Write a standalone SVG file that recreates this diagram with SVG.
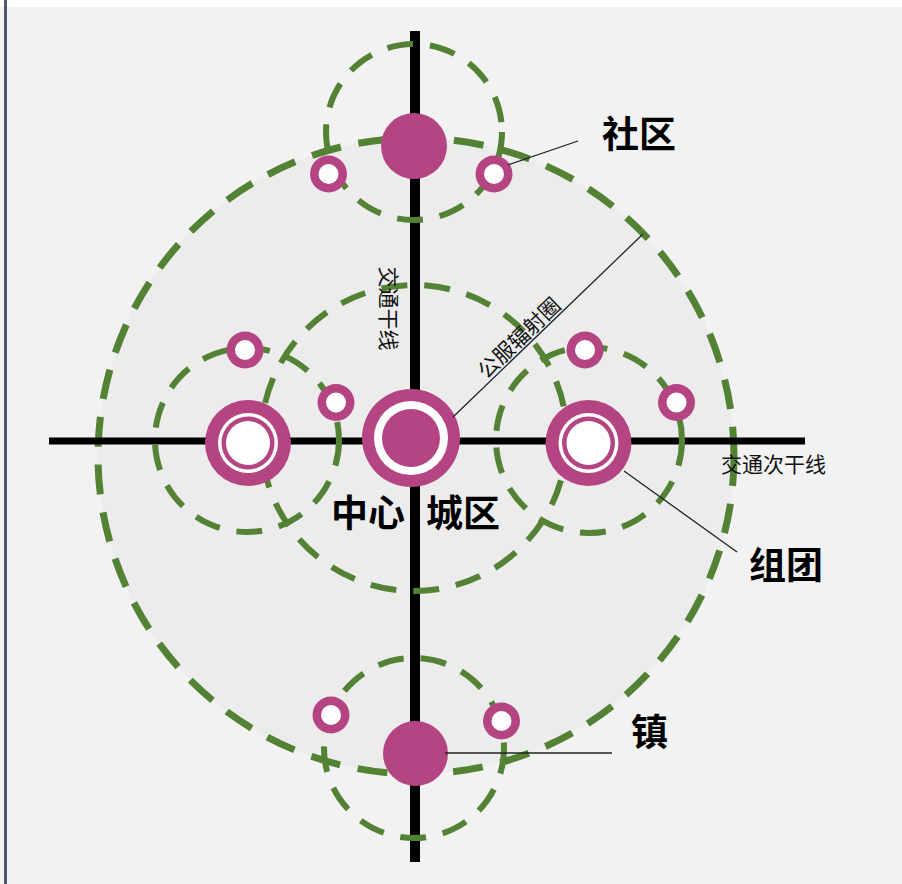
<svg xmlns="http://www.w3.org/2000/svg" width="902" height="884" viewBox="0 0 902 884">
<style>
.dash{fill:none;stroke:#548235;stroke-width:6;stroke-dasharray:26 17}
.big{fill:#ececec;stroke:#548235;stroke-width:7;stroke-dasharray:30 18}
.axis{stroke:#000}
.m{fill:#b44582}
.w{fill:#fff}
.lead{stroke:#222;stroke-width:1.3;fill:none}
.lbl{font-family:"Noto Sans CJK SC","Noto Sans",sans-serif;font-weight:bold;font-size:37px;fill:#000}
.sm{font-family:"Noto Sans CJK SC","Noto Sans",sans-serif;font-size:21px;fill:#111}
</style>
<rect x="0" y="0" width="902" height="884" fill="#f2f2f2"/>
<rect x="0" y="0" width="902" height="7" fill="#ffffff"/>
<rect x="4" y="0" width="3" height="884" fill="#4a5872"/>
<circle class="big" cx="416" cy="456" r="318"/>
<g id="axes">
<line class="axis" x1="415" y1="31" x2="415" y2="862" stroke-width="10"/>
<line class="axis" x1="49" y1="441" x2="805" y2="441" stroke-width="7"/>
</g>
<g id="rings">
<circle class="dash" cx="414" cy="132" r="88"/>
<circle class="dash" cx="414" cy="438" r="153"/>
<circle class="dash" cx="247" cy="440" r="92"/>
<circle class="dash" cx="589" cy="440" r="93"/>
<circle class="dash" cx="414" cy="748" r="90"/>
</g>
<g id="node-shequ"><circle class="m" cx="414" cy="146" r="33"/></g>
<g id="node-shequ-l"><circle class="m" cx="328.5" cy="174" r="18.5"/><circle class="w" cx="328.5" cy="174" r="10"/></g>
<g id="node-shequ-r"><circle class="m" cx="494" cy="174" r="18.5"/><circle class="w" cx="494" cy="174" r="10"/></g>
<g id="node-center"><circle class="m" cx="411" cy="438" r="49"/><circle class="w" cx="411" cy="438" r="37"/><circle class="m" cx="411" cy="438" r="29"/></g>
<g id="node-left"><circle class="m" cx="248" cy="443" r="43"/><circle class="w" cx="248" cy="443" r="30"/><circle class="m" cx="248" cy="443" r="26.5"/><circle class="w" cx="248" cy="443" r="22"/></g>
<g id="node-right"><circle class="m" cx="588.5" cy="443" r="43"/><circle class="w" cx="588.5" cy="443" r="30"/><circle class="m" cx="588.5" cy="443" r="26.5"/><circle class="w" cx="588.5" cy="443" r="22"/></g>
<g id="node-l1"><circle class="m" cx="245" cy="350" r="18.5"/><circle class="w" cx="245" cy="350" r="10"/></g>
<g id="node-l2"><circle class="m" cx="336" cy="402.5" r="18.5"/><circle class="w" cx="336" cy="402.5" r="10"/></g>
<g id="node-r1"><circle class="m" cx="585" cy="350" r="18.5"/><circle class="w" cx="585" cy="350" r="10"/></g>
<g id="node-r2"><circle class="m" cx="676.5" cy="402.5" r="18.5"/><circle class="w" cx="676.5" cy="402.5" r="10"/></g>
<g id="node-b1"><circle class="m" cx="331" cy="715" r="18.5"/><circle class="w" cx="331" cy="715" r="10"/></g>
<g id="node-b2"><circle class="m" cx="501.5" cy="721" r="18.5"/><circle class="w" cx="501.5" cy="721" r="10"/></g>
<g id="node-zhen"><circle class="m" cx="415.5" cy="753.5" r="32.5"/></g>
<g id="connectors">
<line class="lead" x1="508" y1="165" x2="578" y2="141"/>
<line class="lead" x1="453" y1="417" x2="643" y2="234"/>
<line class="lead" x1="624" y1="471" x2="737" y2="552"/>
<line class="lead" x1="445" y1="753" x2="612" y2="753"/>
</g>
<g id="labels">
<text class="lbl" x="602" y="148">社区</text>
<text class="lbl" x="331" y="527">中心</text>
<text class="lbl" x="426" y="527">城区</text>
<text class="lbl" x="749" y="579">组团</text>
<text class="lbl" x="631" y="746">镇</text>
<text class="sm" x="721" y="472">交通次干线</text>
<text class="sm" transform="translate(390,308.5) rotate(90)" text-anchor="middle" dominant-baseline="central">交通干线</text>
<text class="sm" transform="translate(518,337) rotate(-44)" text-anchor="middle" dominant-baseline="central">公服辐射圈</text>
</g>
</svg>
